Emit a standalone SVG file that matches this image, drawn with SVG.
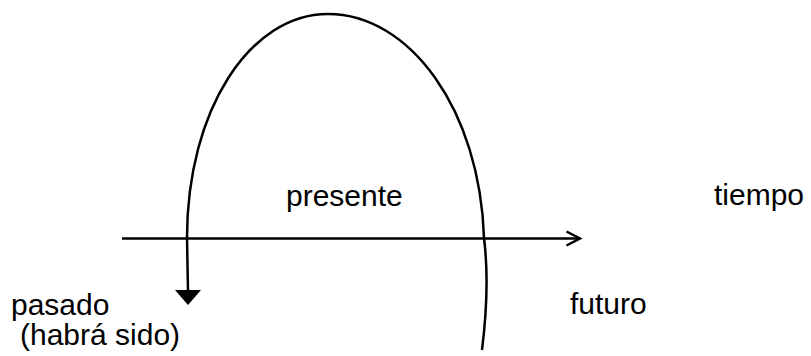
<svg xmlns="http://www.w3.org/2000/svg" width="811" height="356" viewBox="0 0 811 356">
<style>
.t{font-family:"Liberation Sans",Arial,sans-serif;font-size:30px;fill:#000}
.ln{fill:none;stroke:#000;stroke-width:2.5}
</style>
<rect width="811" height="356" fill="#fff"/>
<g id="connectors">
<path class="ln" d="M122,238.5 L579,238.5"/>
<path class="ln" d="M566.5,231.5 L580,238.5 L566.5,245.5" stroke-linejoin="miter"/>
<path class="ln" d="M482,350 C487,310 488,270 484,238 C480,110 410,14 328,14 C250,14 187,110 187,238 L188,291"/>
<polygon points="175,290 201,290 188,305" fill="#000"/>
</g>
<g id="presente"><text class="t" x="286" y="206">presente</text></g>
<g id="tiempo"><text class="t" x="714" y="205">tiempo</text></g>
<g id="pasado"><text class="t" x="11" y="315">pasado</text><text class="t" x="20" y="345">(habrá sido)</text></g>
<g id="futuro"><text class="t" x="570" y="314">futuro</text></g>
</svg>
